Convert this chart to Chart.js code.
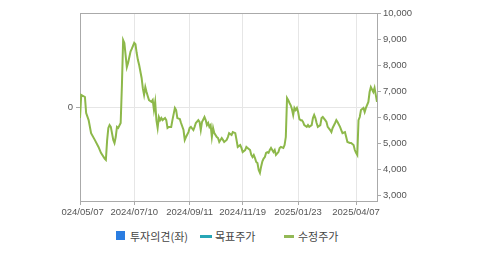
<!DOCTYPE html>
<html><head><meta charset="utf-8">
<script src="https://cdn.jsdelivr.net/npm/chart.js@4.4.1/dist/chart.umd.min.js"></script>
<style>
html,body{margin:0;padding:0;background:#fff;width:479px;height:255px;overflow:hidden;position:relative;}
#c{position:absolute;left:0;top:0;clip-path:inset(0 0 0 61px);}
.lg{position:absolute;font-family:"Noto Sans CJK KR","Noto Sans",sans-serif;font-size:11px;color:#444;line-height:12px;top:230px;}
.mk{position:absolute;}
</style></head>
<body>
<canvas id="c" width="479" height="225"></canvas>
<div class="mk" style="left:116px;top:231px;width:9px;height:9px;background:#2b7de1"></div>
<div class="lg" style="left:130px">투자의견(좌)</div>
<div class="mk" style="left:200px;top:235px;width:12px;height:3px;background:#27a6b6"></div>
<div class="lg" style="left:215px">목표주가</div>
<div class="mk" style="left:284px;top:235px;width:10px;height:3px;background:#93b956"></div>
<div class="lg" style="left:298px">수정주가</div>
<script>
// trading-day index (0 = 2024/05/07) and adjusted close price
const dayIdx = [0,1,4,5,7,9,12,15,17,20,21,22,23,24,25,27,28,29,30,31,33,34,35,36,38,39,41,42,44,45,46,47,48,50,51,52,53,54,55,56,58,59,60,61,62,63,64,65,66,67,69,70,71,72,74,75,77,78,79,81,82,84,85,86,88,89,90,92,93,94,96,97,98,99,101,102,103,104,105,106,107,108,109,111,112,113,115,116,117,119,120,121,123,124,126,127,128,130,131,132,134,135,136,138,139,140,141,142,143,144,145,146,147,148,149,150,151,152,153,154,155,157,158,159,161,162,163,165,166,167,168,169,170,171,172,173,174,175,176,177,178,179,180,181,182,184,185,186,188,189,190,191,192,193,195,196,197,199,200,201,203,204,205,207,208,209,211,212,213,215,216,217,219,220,222,223,224,225,226,227,228,230,231,232,234,235,236,238,239,240,241];
const price = [5960,6850,6770,6150,5880,5380,5120,4850,4620,4400,4350,5100,5580,5690,5620,5120,5000,5230,5620,5580,5770,7200,8960,8850,7920,8080,8520,8620,8850,8800,8460,8190,8000,7500,7100,6850,7150,6960,6800,6650,6580,6650,6270,6580,5880,5580,6000,5880,5960,5880,5960,5880,5580,5620,5620,5880,6350,6270,5960,5920,5770,5500,5120,5230,5420,5580,5620,5500,5620,5770,5880,5810,5500,5810,6000,5880,5690,5770,5620,5690,5230,5580,5380,5230,5190,5040,5190,5120,5040,5120,5230,5380,5310,5420,5380,5120,4850,4920,4810,4650,4730,4850,4810,4730,4540,4460,4540,4420,4270,4230,3960,3850,4100,4300,4400,4460,4620,4650,4620,4730,4810,4650,4730,4540,4650,4810,4850,4810,4920,5230,6730,6650,6540,6450,6300,6080,6350,6270,6350,6190,5920,5880,5880,5810,5690,5620,5690,5620,5690,5960,6080,5960,5770,5620,5690,5960,6000,5880,5810,5620,5500,5420,5580,5770,5880,5810,5620,5500,5380,5420,5230,5040,5000,5000,4920,4730,4620,4540,5880,6000,6270,6350,6190,6350,6580,6960,7150,6960,7120,6850,6580];
const xTickIdx = [0,44,89,132,177,224];
const xTickLabels = ["2024/05/07","2024/07/10","2024/09/11","2024/11/19","2025/01/23","2025/04/07"];
const priceTicks = [3000,4000,5000,6000,7000,8000,9000,10000];
const opinionTicks = [0];

const AX='#aaaaaa', GR='#e6e6e6', TX='#555555';
const tickFont={family:'"Liberation Sans", Arial, sans-serif', size:9.5};

const frame={id:'frame',afterDraw(c){const a=c.chartArea,x=c.ctx;x.save();x.strokeStyle=AX;x.lineWidth=1;x.beginPath();x.moveTo(a.left,a.top+0.5);x.lineTo(a.right,a.top+0.5);x.stroke();x.restore();}};

new Chart(document.getElementById('c'),{
  type:'line',
  data:{datasets:[{label:'수정주가',data:dayIdx.map((d,i)=>({x:d,y:price[i]})),borderColor:'#8db84a',borderWidth:2,pointRadius:0,tension:0,yAxisID:'yR',xAxisID:'x'}]},
  options:{responsive:false,animation:false,
    layout:{padding:{top:13,left:0,right:0,bottom:0}},
    plugins:{legend:{display:false},tooltip:{enabled:false}},
    scales:{
      x:{type:'linear',min:0,max:241,
        afterBuildTicks:s=>{s.ticks=xTickIdx.map(v=>({value:v}));},
        afterFit:s=>{s.height=24;},
        ticks:{autoSkip:false,maxRotation:0,color:TX,font:tickFont,padding:2,callback:(v)=>{const i=xTickIdx.indexOf(v);return i>=0?xTickLabels[i]:null;}},
        grid:{color:GR,tickColor:AX,tickLength:4},border:{color:AX}},
      yL:{position:'left',min:-1,max:1,
        afterBuildTicks:s=>{s.ticks=opinionTicks.map(v=>({value:v}));},
        afterFit:s=>{s.width=80;},
        ticks:{color:TX,font:tickFont,padding:3},
        grid:{color:GR,tickColor:AX,tickLength:4},border:{color:AX}},
      yR:{position:'right',min:2770,max:10000,
        afterBuildTicks:s=>{s.ticks=priceTicks.map(v=>({value:v}));},
        afterFit:s=>{s.width=102;},
        ticks:{color:TX,font:tickFont,padding:2,callback:v=>v.toLocaleString('en-US')},
        grid:{drawOnChartArea:false,tickColor:AX,tickLength:4},border:{color:AX}}
    }},
  plugins:[frame]
});
</script>
</body></html>
